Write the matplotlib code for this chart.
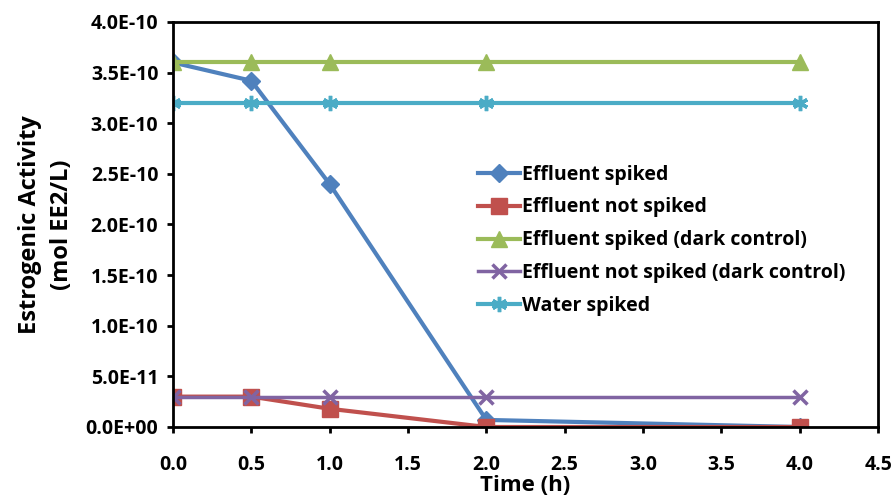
import matplotlib
matplotlib.use('Agg')
import matplotlib.pyplot as plt
from matplotlib.ticker import FuncFormatter, FixedLocator

# Data
time_h = [0.0, 0.5, 1.0, 2.0, 4.0]
effluent_spiked = [3.6e-10, 3.42e-10, 2.4e-10, 7e-12, 0.0]
effluent_not_spiked = [3.0e-11, 3.0e-11, 1.8e-11, 0.0, 0.0]
effluent_spiked_dark = [3.6e-10, 3.6e-10, 3.6e-10, 3.6e-10, 3.6e-10]
effluent_not_spiked_dark = [3.0e-11, 3.0e-11, 3.0e-11, 3.0e-11, 3.0e-11]
water_spiked = [3.2e-10, 3.2e-10, 3.2e-10, 3.2e-10, 3.2e-10]

labels = ['Effluent spiked', 'Effluent not spiked', 'Effluent spiked (dark control)',
          'Effluent not spiked (dark control)', 'Water spiked']

x_ticks = [0.0, 0.5, 1.0, 1.5, 2.0, 2.5, 3.0, 3.5, 4.0, 4.5]
y_ticks = [0.0, 0.5e-10, 1.0e-10, 1.5e-10, 2.0e-10, 2.5e-10, 3.0e-10, 3.5e-10, 4.0e-10]

plt.rcParams['font.family'] = ['Open Sans', 'DejaVu Sans']
plt.rcParams['font.weight'] = 'bold'

fig = plt.figure(figsize=(8.96, 5.0), dpi=100)
ax = fig.add_axes([0.193, 0.146, 0.787, 0.81])

ax.plot(time_h, effluent_spiked, color='#4F81BD', lw=3, marker='D', ms=9, label=labels[0])
ax.plot(time_h, effluent_not_spiked, color='#C0504D', lw=3, marker='s', ms=11, label=labels[1])
ax.plot(time_h, effluent_spiked_dark, color='#9BBB59', lw=3, marker='^', ms=11, label=labels[2])
ax.plot(time_h, effluent_not_spiked_dark, color='#8064A2', lw=2.5, marker='x', ms=10, mew=2.5, label=labels[3])
ax.plot(time_h, water_spiked, color='#4BACC6', lw=3, marker=(6, 2, 0), ms=11, mew=2.5, label=labels[4])

ax.set_xlim(0, 4.5)
ax.set_ylim(0, 4.0e-10)
ax.xaxis.set_major_locator(FixedLocator(x_ticks))
ax.yaxis.set_major_locator(FixedLocator(y_ticks))
ax.xaxis.set_major_formatter(FuncFormatter(lambda v, p: f'{v:.1f}'))
ax.yaxis.set_major_formatter(FuncFormatter(lambda v, p: f'{v:.1E}'))

for s in ax.spines.values():
    s.set_linewidth(2)
ax.tick_params(direction='out', length=4.5, width=2, labelsize=14)
ax.tick_params(axis='x', pad=16)
ax.tick_params(axis='y', pad=6)
for lab in ax.get_xticklabels() + ax.get_yticklabels():
    lab.set_fontweight('bold')

ax.set_xlabel('Time (h)', fontsize=16, fontweight='bold', labelpad=0)
ax.set_ylabel('Estrogenic Activity\n(mol EE2/L)', fontsize=17, fontweight='bold',
              labelpad=8, linespacing=1.45)

leg = ax.legend(loc='upper left', bbox_to_anchor=(0.421, 0.667), frameon=False,
                prop={'size': 14, 'weight': 'bold'}, handlelength=2.2,
                handletextpad=0.1, labelspacing=0.66, borderaxespad=0)

fig.savefig('out.png', dpi=100)
